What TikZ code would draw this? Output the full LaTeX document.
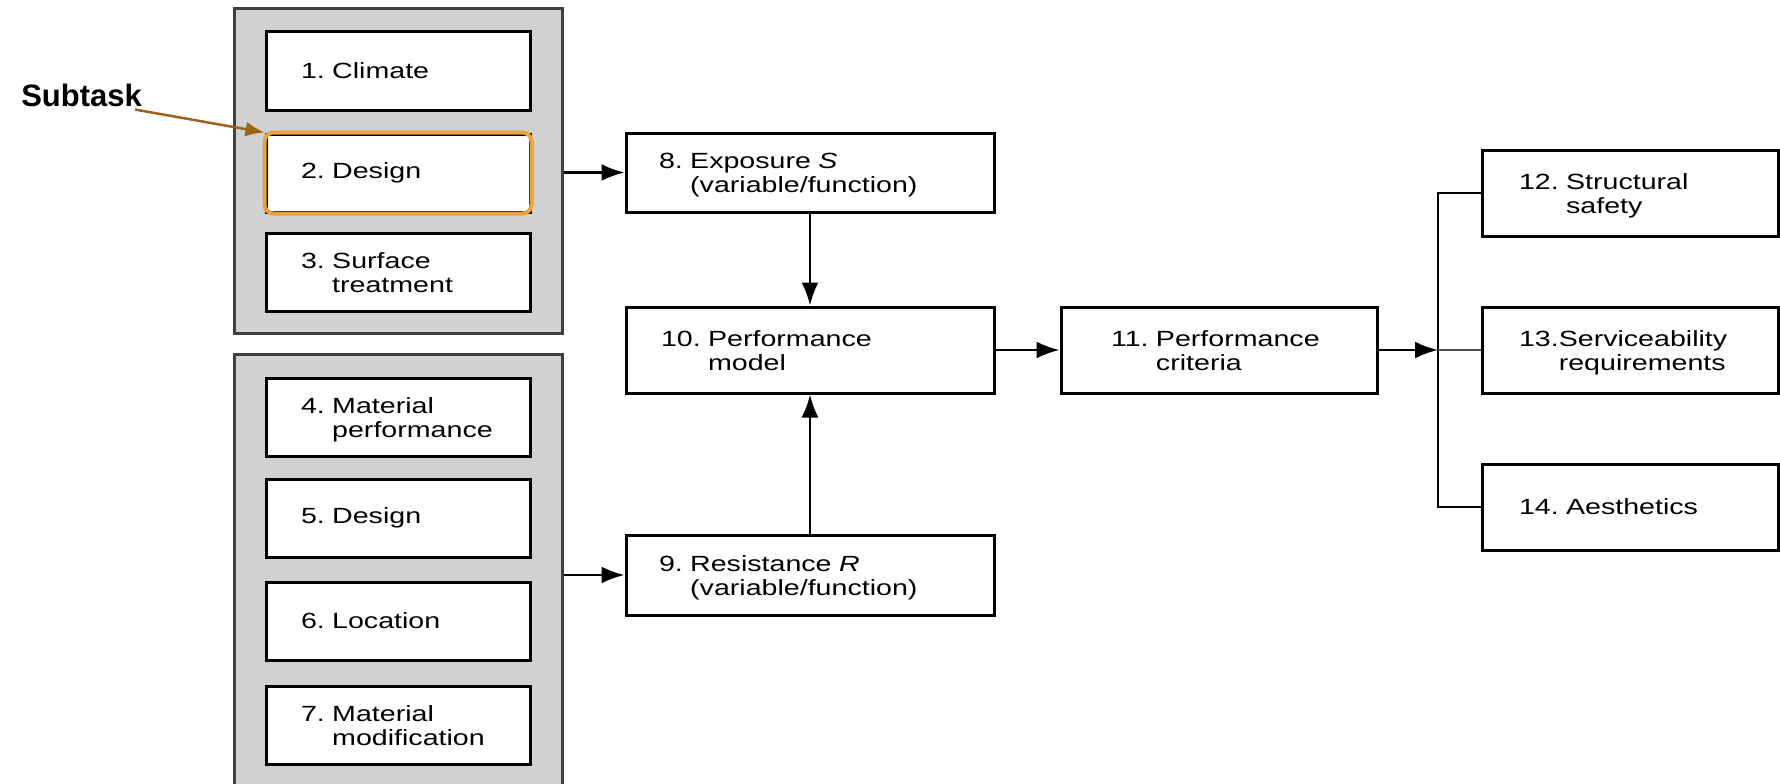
\documentclass[tikz,border=0pt]{standalone}
\usepackage{fontspec}
\setmainfont{Liberation Sans}
\newfontfamily\boxfont{Liberation Sans}[FakeStretch=1.3]
\usetikzlibrary{arrows.meta}
\frenchspacing

\definecolor{grpgray}{RGB}{208,209,209}
\definecolor{hlorange}{RGB}{236,160,64}
\definecolor{notebrown}{RGB}{156,100,24}

% number with a hanging second line
\newcommand{\twoline}[4][\ ]{\begin{tabular}{@{}l@{#1}l@{}}#2 & #3\\ & #4\\[-7pt]\end{tabular}}

\begin{document}
\begin{tikzpicture}[
                x=1pt, y=-1pt,
                line width=2.5pt,
                >={Latex[length=23pt,width=17pt]},
                group/.style={draw=black!75, line width=3pt, fill=grpgray, minimum width=328pt, inner sep=0pt},
                task/.style={draw, line width=3pt, fill=white, minimum height=78pt, text width=194pt, inner xsep=35pt, align=left, font=\boxfont\fontsize{22}{24}\selectfont},
                stage/.style={draw, line width=3pt, fill=white, align=left, font=\boxfont\fontsize{22}{24}\selectfont},
                hl/.style={draw=hlorange, line width=4pt, rounded corners=9pt}
                ]

                \path[clip, use as bounding box] (0,0) rectangle (1780,784);

                \node [group, minimum height=324pt] (g1) at (398,171) {};
                \node [group, minimum height=446pt] (g2) at (398,577) {};

                \node [task] (n1) at (398,71) {1. Climate};
                \node [task] (n2) at (398,173) {2. Design};
                \node [task] (n3) at (398,272) {\twoline{3.}{Surface}{treatment}};
                \node [task] (n4) at (398,417) {\twoline{4.}{Material}{performance}};
                \node [task] (n5) at (398,518) {5. Design};
                \node [task] (n6) at (398,621) {6. Location};
                \node [task] (n7) at (398,725) {\twoline{7.}{Material}{modification}};
                \draw [hl] (n2.north west) rectangle (n2.south east);

                \node [stage, text width=302pt, inner xsep=33pt, minimum height=79pt] (n8) at (810,172.5) {\twoline{8.}{Exposure \textit{S}}{(variable/function)}};
                \node [stage, text width=302pt, inner xsep=33pt, minimum height=80pt] (n9) at (810,575) {\twoline{9.}{Resistance \textit{R}}{(variable/function)}};
                \node [stage, text width=298pt, inner xsep=35pt, minimum height=86pt] (n10) at (810,350) {\twoline{10.}{Performance}{model}};
                \node [stage, text width=216pt, inner xsep=50pt, minimum height=86pt] (n11) at (1219,350) {\twoline{11.}{Performance}{criteria}};
                \node [stage, text width=222pt, inner xsep=37pt, minimum height=86pt] (n12) at (1630,193) {\twoline{12.}{Structural}{safety}};
                \node [stage, text width=222pt, inner xsep=37pt, minimum height=86pt] (n13) at (1630,350) {\twoline[]{13.}{Serviceability}{requirements}};
                \node [stage, text width=222pt, inner xsep=37pt, minimum height=86pt] (n14) at (1630,507) {14. Aesthetics};
                \coordinate (jn) at (1438,350);

                \node [anchor=base west, inner sep=0pt, font=\bfseries\fontsize{31}{36}\selectfont] (sub) at (20,106) {Subtask};

                \draw[->] (g1.east |- n8.west) -- (n8.west);
                \draw[->] (g2.east |- n9.west) -- (n9.west);
                \draw[->] (n8) -- (n10);
                \draw[->] (n9) -- (n10);
                \draw[->] (n10) -- (n11);
                \draw[->] (n11) -- (jn);
                \draw (n12.west) -| (jn) |- (n14.west);
                \draw[black!70, line width=1.5pt] (jn) -- (n13);

                \draw[-{Latex[length=19pt,width=15pt]}, notebrown] ([xshift=-8pt,yshift=-2pt]sub.south east) -- (n2.north west);
            \end{tikzpicture}
\end{document}
